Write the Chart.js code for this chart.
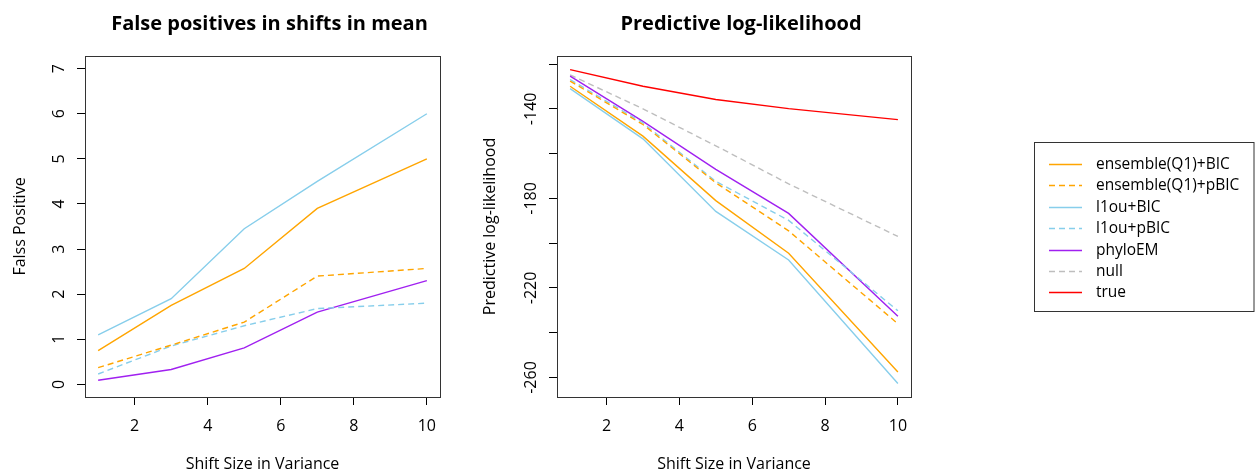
<!DOCTYPE html>
<html>
<head>
<meta charset="utf-8">
<script src="https://cdn.jsdelivr.net/npm/chart.js@4.4.0/dist/chart.umd.min.js"></script>
<style>
  html, body { margin: 0; padding: 0; background: #fff; overflow: hidden; }
  #wrap { position: relative; width: 1255px; height: 471px; }
  #fpChart { position: absolute; left: 0; top: 0; }
  #llChart { position: absolute; left: 470px; top: 0; }
</style>
</head>
<body>
<div id="wrap">
  <canvas id="fpChart" width="470" height="474"></canvas>
  <canvas id="llChart" width="785" height="474"></canvas>
</div>
<script>
// data
const SHIFT_SIZES = [1, 3, 5, 7, 10];
const METHODS = ['ensemble(Q1)+BIC', 'ensemble(Q1)+pBIC', 'l1ou+BIC', 'l1ou+pBIC', 'phyloEM', 'null', 'true'];
const COLORS = ['#FFA500', '#FFA500', '#87CEEB', '#87CEEB', '#A020F0', '#BEBEBE', '#FF0000'];
const DASHED = [false, true, false, true, false, true, false];

// false positives (first 5 methods)
const FP_ENS_BIC = [0.75, 1.75, 2.57, 3.9, 5.0];
const FP_ENS_PBIC = [0.37, 0.87, 1.38, 2.4, 2.57];
const FP_L1OU_BIC = [1.1, 1.9, 3.45, 4.5, 6.0];
const FP_L1OU_PBIC = [0.23, 0.85, 1.3, 1.68, 1.8];
const FP_PHYLOEM = [0.09, 0.33, 0.81, 1.6, 2.3];

// predictive log-likelihood
const LL_ENS_BIC = [-129.9, -152.2, -181, -204.5, -257.5];
const LL_ENS_PBIC = [-127.6, -147, -173, -194.5, -236];
const LL_L1OU_BIC = [-131, -153.4, -185.8, -207.5, -262.7];
const LL_L1OU_PBIC = [-126.9, -146.3, -172.4, -189.8, -230.2];
const LL_PHYLOEM = [-125.4, -145.6, -167, -186.7, -232.6];
const LL_NULL = [-124.8, -140, -156.5, -173.5, -197];
const LL_TRUE = [-122.5, -129.9, -135.8, -139.9, -144.8];

const X_TICKS = [2, 4, 6, 8, 10];
const FP_TICKS = [0, 1, 2, 3, 4, 5, 6, 7];
const FP_TICK_LABELS = ['0', '1', '2', '3', '4', '5', '6', '7'];
const LL_TICKS = [-260, -240, -220, -200, -180, -160, -140, -120];
const LL_TICK_LABELS = ['-260', '', '-220', '', '-180', '', '-140', ''];

const FONT = '"Open Sans", "Noto Sans", sans-serif';
Chart.defaults.font.family = FONT;
Chart.defaults.color = '#000';

function makeSeries(values, i) {
  return {
    label: METHODS[i],
    data: SHIFT_SIZES.map((x, k) => ({ x: x, y: values[k] })),
    borderColor: COLORS[i],
    backgroundColor: COLORS[i],
    borderWidth: 1.4,
    borderDash: DASHED[i] ? [6, 4] : [],
    pointRadius: 0,
    tension: 0,
    fill: false
  };
}

// plot frame like base R box()
const boxPlugin = {
  id: 'boxPlugin',
  afterDraw(chart) {
    const a = chart.chartArea, ctx = chart.ctx;
    ctx.save();
    ctx.strokeStyle = '#333';
    ctx.lineWidth = 1;
    ctx.strokeRect(a.left + 0.5, a.top + 0.5, a.right - a.left, a.bottom - a.top);
    ctx.restore();
  }
};

// main title, a bit right of the plot centre as in the original
const mainTitle = {
  id: 'mainTitle',
  afterDraw(chart, args, opts) {
    const a = chart.chartArea, ctx = chart.ctx;
    ctx.save();
    ctx.font = 'bold 20px ' + FONT;
    ctx.fillStyle = '#000';
    ctx.textAlign = 'center';
    ctx.textBaseline = 'alphabetic';
    ctx.fillText(opts.text, (a.left + a.right) / 2 + 7, 29.5);
    ctx.restore();
  }
};

// y tick labels rotated like R (las = 0)
const rotYLabels = {
  id: 'rotYLabels',
  afterDraw(chart, args, opts) {
    const s = chart.scales.y, ctx = chart.ctx;
    ctx.save();
    ctx.font = '16px ' + FONT;
    ctx.fillStyle = '#000';
    ctx.textAlign = 'center';
    ctx.textBaseline = 'alphabetic';
    opts.values.forEach((v, i) => {
      if (!opts.labels[i]) return;
      ctx.save();
      ctx.translate(s.right - 21, s.getPixelForValue(v));
      ctx.rotate(-Math.PI / 2);
      ctx.fillText(opts.labels[i], 0, 0);
      ctx.restore();
    });
    ctx.restore();
  }
};

// boxed legend on the right side
const boxLegend = {
  id: 'boxLegend',
  afterDraw(chart) {
    const ctx = chart.ctx;
    ctx.save();
    ctx.strokeStyle = '#333';
    ctx.lineWidth = 1;
    ctx.strokeRect(564.5, 142.5, 219.5, 169);
    ctx.font = '15.5px ' + FONT;
    ctx.textBaseline = 'middle';
    ctx.textAlign = 'left';
    chart.data.datasets.forEach((ds, i) => {
      const y = Math.round(164 + i * 21.4) + 0.5;
      ctx.strokeStyle = ds.borderColor;
      ctx.lineWidth = ds.borderWidth;
      ctx.setLineDash(ds.borderDash);
      ctx.beginPath();
      ctx.moveTo(579, y);
      ctx.lineTo(612, y);
      ctx.stroke();
      ctx.setLineDash([]);
      ctx.fillStyle = '#000';
      ctx.fillText(ds.label, 626, y);
    });
    ctx.restore();
  }
};

function axisOpts(min, max, ticks, title, isX, size) {
  return {
    type: 'linear',
    min: min,
    max: max,
    afterBuildTicks: s => { s.ticks = ticks.map(v => ({ value: v })); },
    afterFit: s => { if (isX) s.height = size; else s.width = size; },
    grid: { drawOnChartArea: false, drawTicks: true, tickLength: 8, color: '#000', lineWidth: 1 },
    border: { display: false },
    ticks: isX
      ? { font: { size: 16 }, color: '#000', padding: 12, maxRotation: 0, autoSkip: false }
      : { display: false },
    title: {
      display: true,
      text: title,
      font: { size: 16 },
      color: '#000',
      padding: isX ? { top: 1.5, bottom: 0 } : { top: 10.4, bottom: 0 }
    }
  };
}

function baseOptions(titleText, yMin, yMax, yTicks, yLabels, yTitle, yWidth, padRight) {
  return {
    responsive: false,
    animation: false,
    layout: { padding: { left: 0, right: padRight, top: 56, bottom: 0 } },
    plugins: {
      legend: { display: false },
      tooltip: { enabled: false },
      title: { display: false },
      mainTitle: { text: titleText },
      rotYLabels: { values: yTicks, labels: yLabels }
    },
    scales: {
      x: axisOpts(0.64, 10.36, X_TICKS, 'Shift Size in Variance', true, 77),
      y: axisOpts(yMin, yMax, yTicks, yTitle, false, yWidth)
    }
  };
}

new Chart(document.getElementById('fpChart'), {
  type: 'line',
  data: {
    datasets: [
      makeSeries(FP_ENS_BIC, 0),
      makeSeries(FP_ENS_PBIC, 1),
      makeSeries(FP_L1OU_BIC, 2),
      makeSeries(FP_L1OU_PBIC, 3),
      makeSeries(FP_PHYLOEM, 4)
    ]
  },
  options: baseOptions('False positives in shifts in mean', -0.28, 7.28, FP_TICKS, FP_TICK_LABELS,
    'Falss Positive', 85, 30),
  plugins: [boxPlugin, mainTitle, rotYLabels]
});

new Chart(document.getElementById('llChart'), {
  type: 'line',
  data: {
    datasets: [
      makeSeries(LL_ENS_BIC, 0),
      makeSeries(LL_ENS_PBIC, 1),
      makeSeries(LL_L1OU_BIC, 2),
      makeSeries(LL_L1OU_PBIC, 3),
      makeSeries(LL_PHYLOEM, 4),
      makeSeries(LL_NULL, 5),
      makeSeries(LL_TRUE, 6)
    ]
  },
  options: baseOptions('Predictive log-likelihood', -268.7, -116.4, LL_TICKS, LL_TICK_LABELS,
    'Predictive log-likelihood', 87, 344),
  plugins: [boxPlugin, mainTitle, rotYLabels, boxLegend]
});
</script>
</body>
</html>
